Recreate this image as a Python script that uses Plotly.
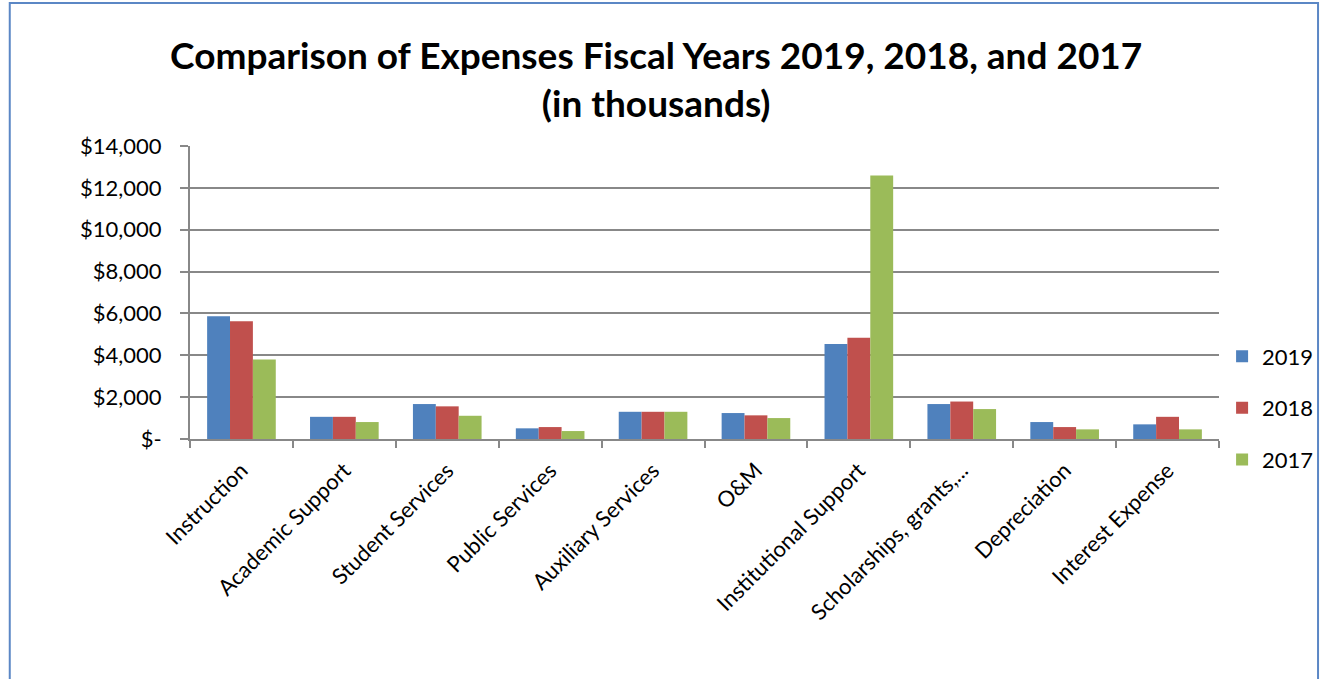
import plotly.graph_objects as go

categories = ["Instruction", "Academic Support", "Student Services", "Public Services",
              "Auxiliary Services", "O&M", "Institutional Support", "Scholarships, grants,...",
              "Depreciation", "Interest Expense"]
fy2019 = [5870, 1060, 1670, 510, 1300, 1240, 4540, 1670, 810, 700]
fy2018 = [5630, 1060, 1560, 570, 1300, 1130, 4840, 1790, 570, 1060]
fy2017 = [3800, 810, 1110, 380, 1300, 1000, 12590, 1430, 460, 460]
series_names = ["2019", "2018", "2017"]
colors = ["#4F81BD", "#C0504D", "#9BBB59"]
y_tickvals = [0, 2000, 4000, 6000, 8000, 10000, 12000, 14000]
y_ticktext = ["$-", "$2,000", "$4,000", "$6,000", "$8,000", "$10,000", "$12,000", "$14,000"]

FONT = "Lato"
fig = go.Figure()
for i, (name, vals) in enumerate(zip(series_names, [fy2019, fy2018, fy2017])):
    fig.add_trace(go.Bar(x=categories, y=vals, name=name, marker_color=colors[i],
                         marker_line_width=0, legendgroup=name))

fig.update_layout(
    width=1331, height=679,
    margin=dict(l=190, r=102, t=146, b=240),
    paper_bgcolor="white", plot_bgcolor="white",
    barmode="group", bargap=0.333, bargroupgap=0,
    font=dict(family=FONT, size=22, color="#000000"),
    title=dict(text="<b>Comparison of Expenses Fiscal Years 2019, 2018, and 2017<br>(in thousands)</b>",
               x=0.493, xanchor="center", y=0.898, yanchor="top",
               font=dict(family=FONT, size=37, color="#000000")),
    legend=dict(x=1.003, xanchor="left", y=0.106, yanchor="middle",
                font=dict(family=FONT, size=22), tracegroupgap=20,
                itemwidth=30, bgcolor="rgba(0,0,0,0)"),
    showlegend=True,
)
fig.update_xaxes(tickangle=-45, showline=True, linecolor="#888888", linewidth=2,
                 ticks="outside", ticklen=7, tickcolor="#888888", tickwidth=2,
                 tickson="boundaries", showgrid=False, ticklabelstandoff=8,
                 tickfont=dict(family=FONT, size=22, color="#000000"))
fig.update_yaxes(range=[0, 14000], tickvals=y_tickvals, ticktext=y_ticktext,
                 showline=True, linecolor="#888888", linewidth=2,
                 ticks="outside", ticklen=8, tickcolor="#888888", tickwidth=2,
                 showgrid=True, gridcolor="#888888", gridwidth=2, zeroline=False,
                 ticklabelstandoff=14,
                 tickfont=dict(family=FONT, size=22, color="#000000"))
fig.add_shape(type="rect", xref="paper", yref="paper",
              x0=(8 - 190) / 1039, x1=(1329 - 190) / 1039,
              y0=(439 - 690) / 293, y1=(439 - 3) / 293,
              line=dict(color="#5B87C5", width=2), fillcolor="rgba(0,0,0,0)", layer="below")
fig.write_html("out.html")
